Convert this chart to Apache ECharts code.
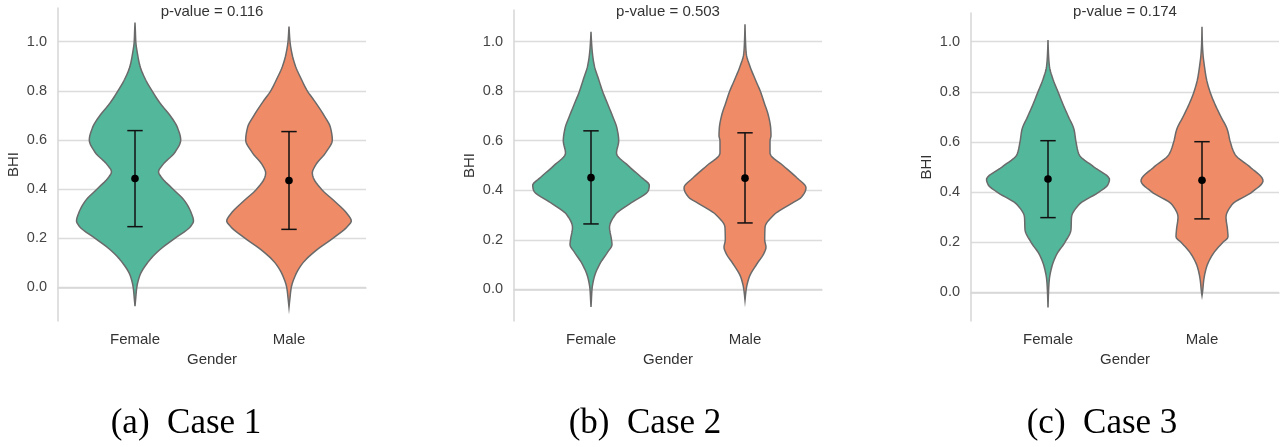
<!DOCTYPE html>
<html><head><meta charset="utf-8">
<script src="https://cdn.jsdelivr.net/npm/echarts@6/dist/echarts.min.js"></script>
<style>html,body{margin:0;padding:0;background:#fff}#c{width:1280px;height:447px}</style>
</head><body><div id="c"></div>
<script>
// ---------- data ----------
const categories = ['Female', 'Male'];
const yTicks = [0.0, 0.2, 0.4, 0.6, 0.8, 1.0];
const pValues = ['0.116', '0.503', '0.174'];
const captions = ['(a)  Case 1', '(b)  Case 2', '(c)  Case 3'];

// violin density profiles: BHI levels and density (half-width, in 1/154 of a category band)
const c1FemaleY = [-0.077, -0.05, 0.00, 0.05, 0.10, 0.15, 0.20, 0.25, 0.27, 0.30, 0.35, 0.40, 0.45, 0.47, 0.50, 0.55, 0.60, 0.65, 0.70, 0.75, 0.80, 0.85, 0.90, 0.95, 1.00, 1.05, 1.078];
const c1FemaleD = [0, 0.6, 1.8, 5, 12.5, 24, 40, 56, 58.5, 56.5, 50, 38, 26, 23.5, 28, 40, 45.7, 42.5, 35, 25, 17, 10, 5, 2.5, 0.8, 0.3, 0];
const c1MaleY = [-0.081, -0.05, 0.00, 0.05, 0.10, 0.15, 0.20, 0.25, 0.27, 0.30, 0.35, 0.40, 0.45, 0.465, 0.50, 0.55, 0.60, 0.65, 0.70, 0.75, 0.80, 0.85, 0.90, 0.95, 1.00, 1.061];
const c1MaleD = [0, 0.8, 2.3, 6.5, 14, 27, 44, 59, 62.3, 58, 45.7, 32.3, 24, 23.3, 27, 37, 43.3, 41.5, 35, 27, 18.3, 12, 6.5, 3, 1, 0];

const c2FemaleY = [-0.071, -0.05, 0.00, 0.05, 0.10, 0.15, 0.18, 0.20, 0.25, 0.30, 0.35, 0.40, 0.42, 0.45, 0.50, 0.55, 0.60, 0.65, 0.70, 0.75, 0.80, 0.85, 0.90, 0.95, 1.00, 1.04];
const c2FemaleD = [0, 0.3, 1, 3.3, 8.5, 16.6, 21, 20.5, 18.5, 24, 40.5, 57.5, 58.3, 51, 37, 25.5, 27.7, 26, 21.5, 16.5, 11.5, 7.5, 3.5, 1.5, 0.5, 0];
const c2MaleY = [-0.044, 0.00, 0.05, 0.10, 0.15, 0.17, 0.20, 0.25, 0.30, 0.35, 0.37, 0.41, 0.45, 0.50, 0.55, 0.60, 0.62, 0.65, 0.70, 0.75, 0.80, 0.85, 0.90, 0.95, 1.00, 1.07];
const c2MaleD = [0, 1.2, 4.3, 11.5, 19.5, 21, 19.7, 20, 28.7, 48, 56, 61, 52, 38, 25, 25, 26, 25.7, 23.5, 19.5, 15.3, 10, 5, 1.3, 0.5, 0];

const c3FemaleY = [-0.061, 0.00, 0.05, 0.10, 0.15, 0.20, 0.25, 0.30, 0.35, 0.40, 0.43, 0.45, 0.50, 0.55, 0.60, 0.65, 0.70, 0.75, 0.80, 0.85, 0.90, 0.95, 1.007];
const c3FemaleD = [0, 0.5, 1.3, 3.7, 8.5, 17, 23, 23.5, 31, 51, 60, 61.5, 46, 31, 28, 26, 20.5, 15, 10, 5, 1.5, 0.5, 0];
const c3MaleY = [-0.013, 0.00, 0.05, 0.10, 0.15, 0.20, 0.22, 0.25, 0.30, 0.35, 0.40, 0.445, 0.50, 0.55, 0.60, 0.65, 0.70, 0.75, 0.80, 0.85, 0.90, 0.95, 1.00, 1.06];
const c3MaleD = [0, 0.5, 1.8, 4.5, 10.5, 21, 26, 25.5, 24, 30, 50, 61, 48, 33, 28.3, 25.3, 19, 13, 8, 4.5, 2.5, 1, 0.3, 0];

// error bars: [low, mean, high] per category
const c1Err = [[0.247, 0.443, 0.638], [0.236, 0.435, 0.634]];
const c2Err = [[0.264, 0.451, 0.640], [0.268, 0.449, 0.632]];
const c3Err = [[0.298, 0.452, 0.605], [0.293, 0.447, 0.601]];

// ---------- chart ----------
const REF_BAND = 154;
const violinColors = ['#53b79b', '#f08b68'];
const panels = [
  {violins: [[c1FemaleY, c1FemaleD], [c1MaleY, c1MaleD]], err: c1Err, grid: {left: 58, top: 8, width: 308, height: 313}, min: -0.137, max: 1.137},
  {violins: [[c2FemaleY, c2FemaleD], [c2MaleY, c2MaleD]], err: c2Err, grid: {left: 514, top: 10, width: 308, height: 311}, min: -0.128, max: 1.128},
  {violins: [[c3FemaleY, c3FemaleD], [c3MaleY, c3MaleD]], err: c3Err, grid: {left: 971, top: 13, width: 308, height: 308}, min: -0.1145, max: 1.1145}
];
const captionX = [186, 645, 1102];
const FONT = '"Liberation Sans", Arial, sans-serif';

// monotone cubic (Fritsch-Carlson) evaluation of d(y) for smooth outline drawing
function monotone(xs, ys) {
  const n = xs.length, dx = [], m = [], t = new Array(n);
  for (let i = 0; i < n - 1; i++) { dx.push(xs[i + 1] - xs[i]); m.push((ys[i + 1] - ys[i]) / dx[i]); }
  t[0] = m[0]; t[n - 1] = m[n - 2];
  for (let i = 1; i < n - 1; i++) {
    if (m[i - 1] * m[i] <= 0) t[i] = 0;
    else { const w1 = 2 * dx[i] + dx[i - 1], w2 = dx[i] + 2 * dx[i - 1]; t[i] = (w1 + w2) / (w1 / m[i - 1] + w2 / m[i]); }
  }
  return function (x) {
    let i = 0;
    while (i < n - 2 && x > xs[i + 1]) i++;
    const h = dx[i], s = (x - xs[i]) / h, s2 = s * s, s3 = s2 * s;
    return (2 * s3 - 3 * s2 + 1) * ys[i] + (s3 - 2 * s2 + s) * h * t[i] + (-2 * s3 + 3 * s2) * ys[i + 1] + (s3 - s2) * h * t[i + 1];
  };
}

const grids = [], xAxes = [], yAxes = [], series = [], graphics = [];
panels.forEach((p, i) => {
  grids.push(p.grid);
  xAxes.push({
    type: 'category', gridIndex: i, data: categories,
    name: 'Gender', nameLocation: 'middle', nameGap: 25,
    nameTextStyle: {fontFamily: FONT, fontSize: 15, color: '#333'},
    axisLine: {show: true, lineStyle: {color: '#d6d6d6', width: 1.5}},
    axisTick: {show: false},
    axisLabel: {fontFamily: FONT, fontSize: 15, color: '#333', margin: 11},
    splitLine: {show: false}
  });
  yAxes.push({
    type: 'value', gridIndex: i, min: p.min, max: p.max,
    name: 'BHI', nameLocation: 'middle', nameGap: 37,
    nameTextStyle: {fontFamily: FONT, fontSize: 15, color: '#333'},
    axisLine: {show: true, lineStyle: {color: '#d6d6d6', width: 1.5}},
    axisTick: {show: false, customValues: yTicks},
    axisLabel: {fontFamily: FONT, fontSize: 14.5, color: '#444', margin: 11,
      customValues: yTicks, formatter: v => v.toFixed(1)},
    splitLine: {show: true, lineStyle: {color: '#dcdcdc', width: 1.3}}
  });
  series.push({
    type: 'custom', xAxisIndex: i, yAxisIndex: i, clip: false,
    data: [[0], [1]],
    renderItem: (params, api) => {
      const idx = params.dataIndex;
      const ys = p.violins[idx][0], ds = p.violins[idx][1];
      const f = monotone(ys, ds);
      const cat = api.value(0);
      const k = api.size([1, 0])[0] / REF_BAND;
      const y0 = ys[0], y1 = ys[ys.length - 1], N = 160;
      const right = [], left = [];
      for (let j = 0; j <= N; j++) {
        const y = y0 + (y1 - y0) * j / N;
        const c = api.coord([cat, y]);
        const w = Math.max(0, f(y)) * k;
        right.push([c[0] + w, c[1]]);
        if (j > 0 && j < N) left.push([c[0] - w, c[1]]);
      }
      const pts = right.concat(left.reverse());
      return {type: 'polygon', shape: {points: pts},
        style: {fill: violinColors[idx], stroke: '#6a6a6a', lineWidth: 1.5}};
    }
  });
  series.push({
    type: 'custom', xAxisIndex: i, yAxisIndex: i, clip: false,
    data: p.err.map((e, j) => [j, e[0], e[1], e[2]]),
    renderItem: (params, api) => {
      const lo = api.coord([api.value(0), api.value(1)]);
      const mid = api.coord([api.value(0), api.value(2)]);
      const hi = api.coord([api.value(0), api.value(3)]);
      const cw = api.size([1, 0])[0] * 0.05;
      const ls = {stroke: '#111', lineWidth: 1.5};
      return {type: 'group', children: [
        {type: 'line', shape: {x1: lo[0], y1: lo[1], x2: hi[0], y2: hi[1]}, style: ls},
        {type: 'line', shape: {x1: lo[0] - cw, y1: lo[1], x2: lo[0] + cw, y2: lo[1]}, style: ls},
        {type: 'line', shape: {x1: hi[0] - cw, y1: hi[1], x2: hi[0] + cw, y2: hi[1]}, style: ls},
        {type: 'circle', shape: {cx: mid[0], cy: mid[1], r: 3.8}, style: {fill: '#000'}}
      ]};
    }
  });
  graphics.push({
    type: 'text', x: p.grid.left + p.grid.width / 2, y: 12,
    style: {text: 'p-value = ' + pValues[i], font: '15px ' + FONT, fill: '#333',
      textAlign: 'center', textVerticalAlign: 'middle'}
  });
  graphics.push({
    type: 'text', x: captionX[i], y: 424,
    style: {text: captions[i], font: '35px "Liberation Serif", "Times New Roman", serif', fill: '#000',
      textAlign: 'center', textVerticalAlign: 'middle'}
  });
});

const chart = echarts.init(document.getElementById('c'), null, {renderer: 'canvas'});
chart.setOption({
  animation: false,
  backgroundColor: '#fff',
  grid: grids, xAxis: xAxes, yAxis: yAxes, series: series,
  graphic: graphics
});
</script></body></html>
